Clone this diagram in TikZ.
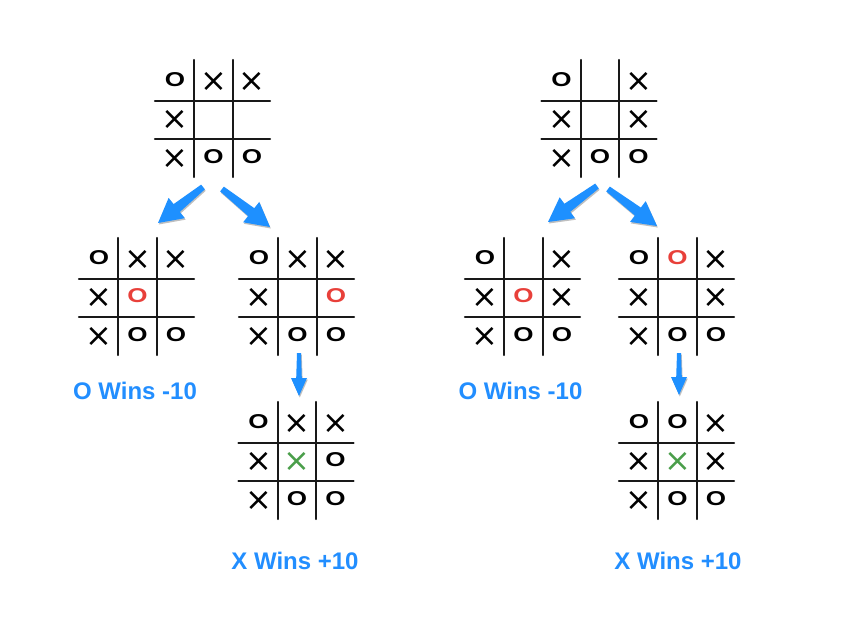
\documentclass[tikz,border=0pt]{standalone}
\usepackage{graphicx}
\usepackage{fontspec}
\setmainfont{Liberation Sans}
\newfontfamily\dejavu{DejaVu Sans}
\usetikzlibrary{calc,shadows}
\definecolor{arrowblue}{RGB}{30,144,255}
\definecolor{labelblue}{RGB}{34,142,255}
\definecolor{markred}{RGB}{232,64,58}
\definecolor{markgreen}{RGB}{74,158,74}
\tikzset{
  gridline/.style={line width=2.2pt, black!90, line cap=round},
  markO/.style={inner sep=0pt, yshift=2pt, font=\fontsize{20}{20}\selectfont\bfseries, node contents={\scalebox{1.3}[1]{O}}},
  markRO/.style={markO, text=markred},
  markX/.style={inner sep=0pt, font=\dejavu\fontsize{32}{32}\selectfont, node contents={×}},
  markGX/.style={markX, text=markgreen},
  bluearrow/.style={fill=arrowblue, draw=none, drop shadow={shadow xshift=0.8pt, shadow yshift=-1.5pt, fill=black, opacity=0.25}},
  scorelabel/.style={inner sep=0pt, text=labelblue, font=\fontsize{24}{24}\selectfont\bfseries},
}
\newcommand{\tttboard}[4]{%
  \begin{scope}[shift={(#2,#3)}]
    \draw[gridline] (-19.25,-60) -- (-19.25,57);
    \draw[gridline] (19.25,-60) -- (19.25,57);
    \draw[gridline] (-58.5,-19.25) -- (56.5,-19.25);
    \draw[gridline] (-58.5,19.25) -- (56.5,19.25);
    \foreach \c/\r/\t in {#4}
      \node (#1-\c\r) at ({(\c-1)*38.5},{(\r-1)*38.5}) [mark\t];
  \end{scope}}
% arrow: tail, tip, head length, head half width, shaft half width at tail, at head
\newcommand{\fatarrow}[6]{%
  \coordinate (hb) at ($(#2)!#3pt!(#1)$);
  \fill[bluearrow] ($(#1)!#5pt!90:(#2)$) -- ($(hb)!#6pt!90:(#2)$) -- ($(hb)!#4pt!90:(#2)$)
    -- (#2) -- ($(hb)!#4pt!-90:(#2)$) -- ($(hb)!#6pt!-90:(#2)$) -- ($(#1)!#5pt!-90:(#2)$) -- cycle;}
\begin{document}
\begin{tikzpicture}[x=1pt,y=-1pt]
\useasboundingbox (0,0) rectangle (866,631);
% boards
\tttboard{A}{213.5}{120}{0/0/O,1/0/X,2/0/X,0/1/X,0/2/X,1/2/O,2/2/O}
\tttboard{B}{600}{120}{0/0/O,2/0/X,0/1/X,2/1/X,0/2/X,1/2/O,2/2/O}
\tttboard{C}{137.5}{298}{0/0/O,1/0/X,2/0/X,0/1/X,1/1/RO,0/2/X,1/2/O,2/2/O}
\tttboard{D}{297.5}{298}{0/0/O,1/0/X,2/0/X,0/1/X,2/1/RO,0/2/X,1/2/O,2/2/O}
\tttboard{E}{523.5}{298}{0/0/O,2/0/X,0/1/X,1/1/RO,2/1/X,0/2/X,1/2/O,2/2/O}
\tttboard{F}{677.5}{298}{0/0/O,1/0/RO,2/0/X,0/1/X,2/1/X,0/2/X,1/2/O,2/2/O}
\tttboard{G}{297}{462}{0/0/O,1/0/X,2/0/X,0/1/X,1/1/GX,2/1/O,0/2/X,1/2/O,2/2/O}
\tttboard{H}{677.5}{462}{0/0/O,1/0/O,2/0/X,0/1/X,1/1/GX,2/1/X,0/2/X,1/2/O,2/2/O}
% arrow end points
\coordinate (AC-s) at (203,187); \coordinate (AC-e) at (158,223);
\coordinate (AD-s) at (222,189); \coordinate (AD-e) at (270,227);
\coordinate (BE-s) at (597,186); \coordinate (BE-e) at (548,222);
\coordinate (BF-s) at (608,189); \coordinate (BF-e) at (657,226);
\coordinate (DG-s) at (299,353); \coordinate (DG-e) at (299,396);
\coordinate (FH-s) at (679,353); \coordinate (FH-e) at (679,395);
\fatarrow{AC-s}{AC-e}{24}{13}{3}{5}
\fatarrow{AD-s}{AD-e}{24}{13}{3}{5}
\fatarrow{BE-s}{BE-e}{24}{13}{3}{5}
\fatarrow{BF-s}{BF-e}{24}{13}{3}{5}
\fatarrow{DG-s}{DG-e}{18}{8}{2}{2.8}
\fatarrow{FH-s}{FH-e}{18}{8}{2}{2.8}
% labels
\node[scorelabel] (lC) at (135,391) {O Wins -10};
\node[scorelabel] (lE) at (520.5,391) {O Wins -10};
\node[scorelabel] (lG) at (295,561) {X Wins +10};
\node[scorelabel] (lH) at (678,561) {X Wins +10};
\end{tikzpicture}
\end{document}
